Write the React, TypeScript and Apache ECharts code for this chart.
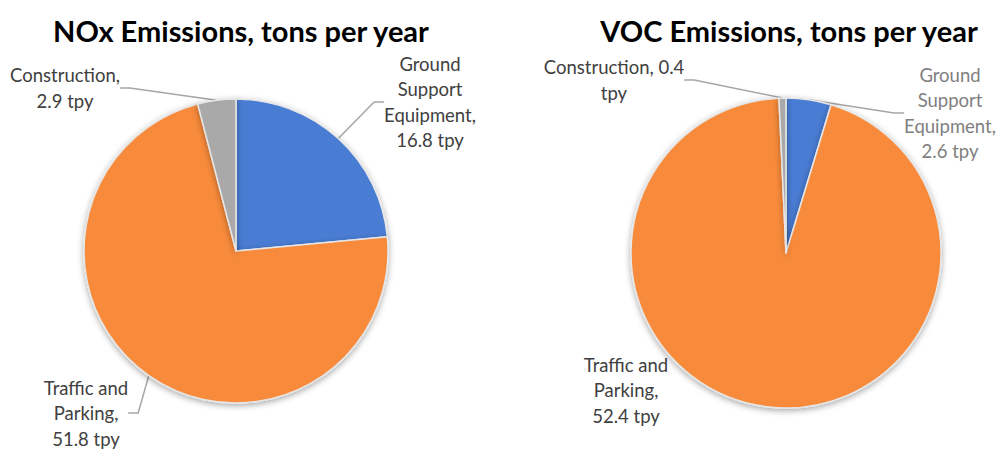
import React, { useEffect, useRef } from "react";
import * as echarts from "echarts";

const categories = ["Ground Support Equipment", "Traffic and Parking", "Construction"];
const noxValues = [16.8, 51.8, 2.9];
const vocValues = [2.6, 52.4, 0.4];
const titles = ["NOx Emissions, tons per year", "VOC Emissions, tons per year"];
const colors = ["#4a7bd3", "#f88b3b", "#a9a9a9"];

// label text per series / data index
const noxLabel = (i: number) => {
  const n = categories[i];
  const v = noxValues[i];
  if (i === 0) return n.split(" ").join("\n") + ",\n" + v + " tpy";
  if (i === 1) return "Traffic and\nParking,\n" + v + " tpy";
  return n + ",\n" + v + " tpy";
};
const vocLabel = (i: number) => {
  const n = categories[i];
  const v = vocValues[i];
  if (i === 0) return n.split(" ").join("\n") + ",\n" + v + " tpy";
  if (i === 1) return "Traffic and\nParking,\n" + v + " tpy";
  return n + ", " + v + "\ntpy";
};

const labelPos: Record<string, [number, number]> = {
  "0-0": [430, 102],
  "0-1": [86, 413],
  "0-2": [65, 88],
  "1-0": [950, 113],
  "1-1": [626, 390],
  "1-2": [614, 80],
};

export default function App() {
  const ref = useRef<HTMLDivElement>(null);
  useEffect(() => {
    if (!ref.current) return;
    const chart = echarts.init(ref.current, undefined, { renderer: "svg" });
    const font = "Lato, 'Open Sans', sans-serif";
    const itemStyle = {
      borderColor: "#e6e6e6",
      borderWidth: 1.5,
      shadowBlur: 6,
      shadowColor: "rgba(0,0,0,0.35)",
      shadowOffsetY: 2,
    };
    const mk = (vals: number[], fmt: (i: number) => string, center: [number, number], radius: number, s: number) => ({
      type: "pie",
      center,
      radius,
      startAngle: 90,
      clockwise: true,
      avoidLabelOverlap: false,
      itemStyle,
      label: {
        show: true,
        fontFamily: font,
        fontSize: 18.5,
        lineHeight: 25.5,
        color: "#404040",
        align: "center",
        formatter: (p: any) => fmt(p.dataIndex),
      },
      labelLine: { show: true, lineStyle: { color: "#a6a6a6", width: 1.5 }, length: 10, length2: 10 },
      labelLayout: (p: any) => {
        const pos = labelPos[s + "-" + p.dataIndex];
        return { x: pos[0], y: pos[1], align: "center", verticalAlign: "middle" };
      },
      emphasis: { disabled: true },
      data: vals.map((v, i) => ({
        value: v,
        name: categories[i],
        itemStyle: { color: colors[i] },
        label: s === 1 && i === 0 ? { color: "#808080" } : undefined,
        labelLine: s === 1 && i === 1 ? { show: false } : undefined,
      })),
    });
    chart.setOption({
      animation: false,
      backgroundColor: "#ffffff",
      title: [
        {
          text: titles[0],
          left: 236,
          top: 11,
          textAlign: "center",
          textStyle: { fontFamily: font, fontSize: 29, fontWeight: "bold", color: "#000" },
        },
        {
          text: titles[1],
          left: 784,
          top: 11,
          textAlign: "center",
          textStyle: { fontFamily: font, fontSize: 29, fontWeight: "bold", color: "#000" },
        },
      ],
      series: [
        mk(noxValues, noxLabel, [236, 251], 152, 0),
        mk(vocValues, vocLabel, [786, 253], 155, 1),
      ],
    });
    return () => chart.dispose();
  }, []);
  return <div ref={ref} style={{ position: "fixed", left: 0, top: 0, width: 1000, height: 449 }} />;
}
